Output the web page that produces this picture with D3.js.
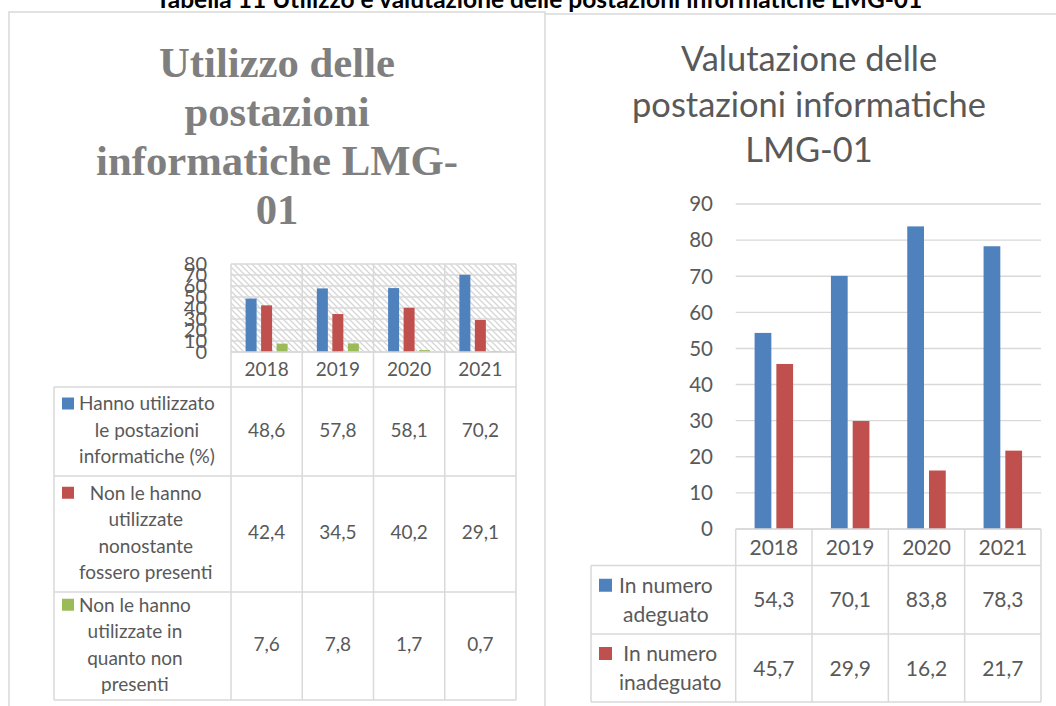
<!DOCTYPE html>
<html>
<head>
<meta charset="utf-8">
<style>
  body { margin: 0; background: #fff; }
  svg text { font-family: Lato, "Noto Sans", sans-serif; fill: #595959; }
</style>
</head>
<body>
<script src="https://d3js.org/d3.v7.min.js"></script>
<script>

// categorie comuni
var years = ["2018", "2019", "2020", "2021"];

// grafico di sinistra: utilizzo delle postazioni
var usoTicks = [0, 10, 20, 30, 40, 50, 60, 70, 80];
var usoHanno = [48.6, 57.8, 58.1, 70.2];
var usoNonUsate = [42.4, 34.5, 40.2, 29.1];
var usoNonPresenti = [7.6, 7.8, 1.7, 0.7];
var usoLegend = [
  ["Hanno utilizzato", "le postazioni", "informatiche (%)"],
  ["Non le hanno", "utilizzate", "nonostante", "fossero presenti"],
  ["Non le hanno", "utilizzate in", "quanto non", "presenti"]
];
var usoTitle = ["Utilizzo delle", "postazioni", "informatiche LMG-", "01"];

// grafico di destra: valutazione delle postazioni
var valTicks = [0, 10, 20, 30, 40, 50, 60, 70, 80, 90];
var valAdeguato = [54.3, 70.1, 83.8, 78.3];
var valInadeguato = [45.7, 29.9, 16.2, 21.7];
var valLegend = [
  ["In numero", "adeguato"],
  ["In numero", "inadeguato"]
];
var valTitle = ["Valutazione delle", "postazioni informatiche", "LMG-01"];

var pageTitle = "Tabella 11 Utilizzo e valutazione delle postazioni informatiche LMG-01";

var colors = ["#4f81bd", "#c0504d", "#9bbb59"];
var lineColor = "#d9d9d9";

var fmt = d3.formatLocale({decimal: ",", thousands: ".", grouping: [3], currency: ["", ""]}).format(".1f");

var svg = d3.select("body").append("svg")
  .attr("width", 1056)
  .attr("height", 706);

var defs = svg.append("defs");
var hatch = defs.append("pattern")
  .attr("id", "hatch")
  .attr("patternUnits", "userSpaceOnUse")
  .attr("width", 6)
  .attr("height", 6);
hatch.append("rect").attr("width", 6).attr("height", 6).attr("fill", "#fff");
hatch.append("path")
  .attr("d", "M-1,-1 L7,7 M-1,5 L1,7 M5,-1 L7,1")
  .attr("stroke", "#d6d6d6")
  .attr("stroke-width", 1.3);

// cornici dei due riquadri
svg.append("path")
  .attr("d", "M9,706 V12 H545 V706")
  .attr("fill", "none")
  .attr("stroke", lineColor)
  .attr("stroke-width", 1.5);
svg.append("path")
  .attr("d", "M545,14 H1056")
  .attr("fill", "none")
  .attr("stroke", lineColor)
  .attr("stroke-width", 1.5);

// scala il font in modo che la riga di riferimento abbia la larghezza voluta
function fitTitle(lines, o) {
  var g = svg.append("g");
  var t = g.selectAll("text")
    .data(lines)
    .join("text")
    .attr("x", o.x)
    .attr("y", function(d, i) { return o.y + i * o.lineH; })
    .attr("text-anchor", "middle")
    .style("font-family", o.family)
    .style("font-weight", o.weight)
    .style("fill", o.color)
    .style("font-size", "40px")
    .text(function(d) { return d; });
  var w = t.nodes()[o.ref].getComputedTextLength();
  t.style("font-size", (40 * o.width / w) + "px");
}

fitTitle([pageTitle], {x: 539, y: 8, lineH: 0, ref: 0, width: 767,
  family: "Lato, sans-serif", weight: 700, color: "#000"});
fitTitle(usoTitle, {x: 277, y: 77, lineH: 49, ref: 2, width: 362,
  family: "'Liberation Serif', serif", weight: 700, color: "#7f7f7f"});
fitTitle(valTitle, {x: 809, y: 71, lineH: 45.5, ref: 1, width: 354,
  family: "Lato, sans-serif", weight: 400, color: "#595959"});

function drawChart(o) {
  var g = svg.append("g");
  var x = d3.scaleBand().domain(years).range([o.left, o.right]);
  var y = d3.scaleLinear().domain([0, d3.max(o.ticks)]).range([o.bottom, o.top]);
  var x1 = d3.scaleBand()
    .domain(d3.range(o.series.length))
    .range(o.group)
    .paddingInner(o.gap);
  var tableBottom = o.rows[o.rows.length - 1];

  if (o.hatch) {
    g.append("rect")
      .attr("x", o.left).attr("y", o.top)
      .attr("width", o.right - o.left).attr("height", o.bottom - o.top)
      .attr("fill", "url(#hatch)");
  }

  // griglia orizzontale
  g.selectAll(".grid")
    .data(o.ticks)
    .join("line")
    .attr("x1", o.left).attr("x2", o.right)
    .attr("y1", function(d) { return y(d); })
    .attr("y2", function(d) { return y(d); })
    .attr("stroke", lineColor)
    .attr("stroke-width", 1.4);

  // etichette asse y
  g.selectAll(".ylab")
    .data(o.ticks)
    .join("text")
    .attr("x", o.yLabelX)
    .attr("y", function(d) { return y(d); })
    .attr("dy", "0.36em")
    .attr("text-anchor", "end")
    .style("font-size", o.tickSize + "px")
    .text(function(d) { return d; });

  // barre
  o.series.forEach(function(vals, s) {
    g.selectAll(".bar" + s)
      .data(vals)
      .join("rect")
      .attr("x", function(d, i) { return x(years[i]) + x1(s); })
      .attr("y", function(d) { return y(d); })
      .attr("width", x1.bandwidth())
      .attr("height", function(d) { return y(0) - y(d); })
      .attr("fill", colors[s]);
  });

  // linee della tabella dati
  var colEdges = years.map(function(d) { return x(d); }).concat([o.right]);
  g.selectAll(".vline")
    .data(colEdges)
    .join("line")
    .attr("x1", function(d) { return d; }).attr("x2", function(d) { return d; })
    .attr("y1", o.frameTop).attr("y2", tableBottom)
    .attr("stroke", lineColor)
    .attr("stroke-width", 1.5);
  g.append("line")
    .attr("x1", o.legendLeft).attr("x2", o.legendLeft)
    .attr("y1", o.rows[0]).attr("y2", tableBottom)
    .attr("stroke", lineColor)
    .attr("stroke-width", 1.5);
  g.selectAll(".hline")
    .data(o.rows)
    .join("line")
    .attr("x1", o.legendLeft).attr("x2", o.right)
    .attr("y1", function(d) { return d; }).attr("y2", function(d) { return d; })
    .attr("stroke", lineColor)
    .attr("stroke-width", 1.5);
  g.append("line")
    .attr("x1", o.left).attr("x2", o.right)
    .attr("y1", o.bottom).attr("y2", o.bottom)
    .attr("stroke", lineColor)
    .attr("stroke-width", 1.5);

  // intestazione anni
  g.selectAll(".year")
    .data(years)
    .join("text")
    .attr("x", function(d) { return x(d) + x.bandwidth() / 2; })
    .attr("y", (o.bottom + o.rows[0]) / 2)
    .attr("dy", "0.36em")
    .attr("text-anchor", "middle")
    .style("font-size", o.fontSize + "px")
    .text(function(d) { return d; });

  // righe con legenda e valori
  o.series.forEach(function(vals, s) {
    var cy = (o.rows[s] + o.rows[s + 1]) / 2 - o.shift;
    var lines = o.legend[s];
    var first = cy - (lines.length - 1) * o.lineH / 2;

    g.append("rect")
      .attr("x", o.keyX)
      .attr("y", first - o.keySize / 2)
      .attr("width", o.keySize)
      .attr("height", o.keySize)
      .attr("fill", colors[s]);

    var t = g.selectAll(".leg" + s)
      .data(lines)
      .join("text")
      .attr("y", function(d, i) { return first + i * o.lineH; })
      .attr("dy", "0.36em")
      .attr("text-anchor", "middle")
      .style("font-size", o.fontSize + "px")
      .text(function(d) { return d; });
    var maxW = d3.max(t.nodes(), function(n) { return n.getComputedTextLength(); });
    t.attr("x", o.textLeft + maxW / 2);

    g.selectAll(".val" + s)
      .data(vals)
      .join("text")
      .attr("x", function(d, i) { return x(years[i]) + x.bandwidth() / 2; })
      .attr("y", cy)
      .attr("dy", "0.36em")
      .attr("text-anchor", "middle")
      .style("font-size", o.fontSize + "px")
      .text(function(d) { return fmt(d); });
  });
}

drawChart({
  series: [usoHanno, usoNonUsate, usoNonPresenti],
  legend: usoLegend,
  ticks: usoTicks,
  left: 231, right: 516, top: 264, bottom: 352,
  frameTop: 264,
  rows: [387, 476, 592, 700],
  group: [14.6, 56.6], gap: 0.29,
  hatch: true,
  yLabelX: 207, tickSize: 20,
  legendLeft: 54, keyX: 62, keySize: 12, textLeft: 79,
  fontSize: 19, lineH: 26.5, shift: 1.5
});

drawChart({
  series: [valAdeguato, valInadeguato],
  legend: valLegend,
  ticks: valTicks,
  left: 735.7, right: 1041, top: 204, bottom: 529,
  frameTop: 529,
  rows: [565.5, 634, 702],
  group: [18.9, 57.4], gap: 0.23,
  hatch: false,
  yLabelX: 713, tickSize: 20.5,
  legendLeft: 591, keyX: 599, keySize: 13, textLeft: 619,
  fontSize: 21, lineH: 29, shift: 0
});

</script>
</body>
</html>
